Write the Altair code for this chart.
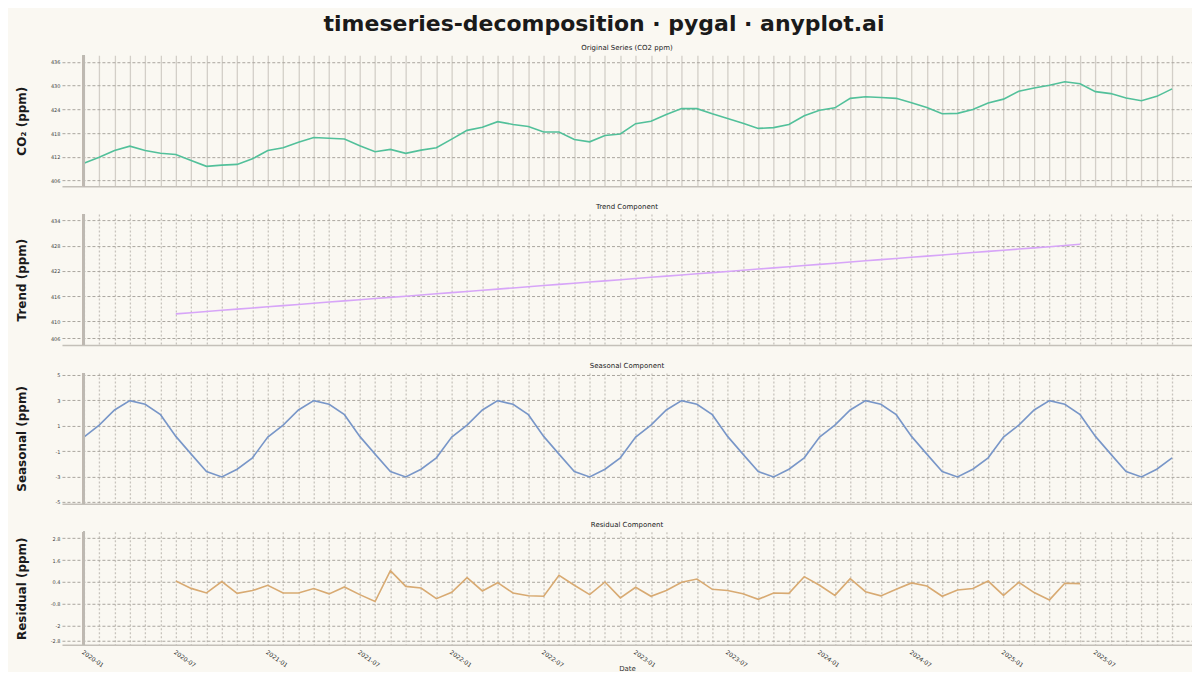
import altair as alt
import pandas as pd

# ---------------- data ----------------
months = [f"{y}-{m:02d}" for y in range(2020, 2026) for m in range(1, 13)]

observed = [
    410.4, 411.9, 413.6, 414.7, 413.6, 412.9, 412.6, 411.1, 409.6, 409.9, 410.1, 411.5,
    413.6, 414.3, 415.7, 416.9, 416.7, 416.5, 414.8, 413.3, 413.9, 412.9, 413.7, 414.3,
    416.5, 418.7, 419.5, 420.9, 420.2, 419.7, 418.3, 418.3, 416.4, 415.8, 417.4, 417.8,
    420.4, 421.0, 422.7, 424.2, 424.2, 422.9, 421.7, 420.5, 419.2, 419.4, 420.2, 422.4,
    423.8, 424.4, 426.8, 427.2, 427.0, 426.8, 425.7, 424.5, 422.9, 423.0, 424.0, 425.6,
    426.6, 428.6, 429.4, 430.1, 431.0, 430.5, 428.5, 428.0, 426.9, 426.2, 427.3, 429.2,
]

# trend: 2020-07 .. 2025-06
trend_months = months[6:66]
trend = [
    411.80, 412.08, 412.36, 412.64, 412.92, 413.20, 413.48, 413.76, 414.04, 414.32, 414.60, 414.88,
    415.16, 415.44, 415.72, 416.00, 416.28, 416.56, 416.84, 417.12, 417.40, 417.68, 417.96, 418.24,
    418.52, 418.80, 419.08, 419.36, 419.64, 419.92, 420.20, 420.48, 420.76, 421.04, 421.32, 421.60,
    421.88, 422.16, 422.44, 422.72, 423.00, 423.28, 423.56, 423.84, 424.12, 424.40, 424.68, 424.96,
    425.24, 425.52, 425.80, 426.08, 426.36, 426.64, 426.92, 427.20, 427.48, 427.76, 428.04, 428.32,
]

# seasonal component: the same 12-month cycle every year
seasonal_cycle = [0.10, 1.05, 2.24, 2.98, 2.69, 1.87, 0.16, -1.24, -2.61, -3.04, -2.43, -1.53]
seasonal = seasonal_cycle * 6

# residual: 2020-07 .. 2025-06
residual_months = months[6:66]
residual = [
    0.45, 0.05, -0.20, 0.42, -0.22, -0.07, 0.22, -0.20, -0.20, 0.04, -0.25, 0.13,
    -0.29, -0.67, 1.02, 0.16, 0.07, -0.51, -0.16, 0.64, -0.09, 0.36, -0.20, -0.35,
    -0.38, 0.76, 0.22, -0.29, 0.40, -0.47, 0.11, -0.38, -0.07, 0.38, 0.56, 0.00,
    -0.07, -0.24, -0.55, -0.20, -0.22, 0.69, 0.22, -0.33, 0.58, -0.13, -0.36, 0.00,
    0.35, 0.18, -0.38, -0.04, 0.04, 0.45, -0.33, 0.38, -0.18, -0.58, 0.33, 0.31,
]

y_ticks_obs = [406, 412, 418, 424, 430, 436]
y_ticks_trend = [406, 410, 416, 422, 428, 434]
y_ticks_seas = [-5, -3, -1, 1, 3, 5]
y_ticks_resid = [-2.8, -2, -0.8, 0.4, 1.6, 2.8]

# ---------------- styling ----------------
BG = "#faf8f2"
FONT = "DejaVu Sans"
W = 1131
X_DOMAIN = [-1.43, 72.3]
x_ticks = list(range(len(months)))
X_LABEL_EXPR = ("datum.value % 6 == 0 ? (2020 + floor(datum.value / 12)) + "
                "(datum.value % 12 == 0 ? '-01' : '-07') : ''")


def frame(labels, values):
    return pd.DataFrame({
        "month": labels,
        "t": [months.index(m) for m in labels],
        "value": values,
    })


def panel(df, color, title, ytitle, ydomain, yvalues, height, solid_vgrid, bottom):
    xa = dict(values=x_ticks, tickCount=200, grid=True, gridColor="#d3cfc8", gridWidth=1.3,
              ticks=False, domain=True, domainColor="#c4c0b9", domainWidth=1.5,
              labelOverlap=False, labelBound=False)
    if not solid_vgrid:
        xa["gridDash"] = [2, 2]
        xa["gridColor"] = "#c8c4bd"
    if bottom:
        xa.update(labels=True, labelExpr=X_LABEL_EXPR, labelAngle=35, labelFontSize=6,
                  labelFont=FONT, labelColor="#333333", labelPadding=4, labelAlign="left",
                  labelBaseline="top",
                  title="Date", titleFont=FONT, titleFontSize=7, titleFontWeight="normal",
                  titleColor="#333333", titleY=20, titleBaseline="top")
        xenc = alt.X("t:Q", scale=alt.Scale(domain=X_DOMAIN, nice=False, zero=False),
                     axis=alt.Axis(**xa))
    else:
        xa.update(labels=False)
        xenc = alt.X("t:Q", scale=alt.Scale(domain=X_DOMAIN, nice=False, zero=False),
                     axis=alt.Axis(**xa), title=None)

    ya = alt.Axis(values=yvalues, tickCount=20, grid=True, gridDash=[3, 2], gridColor="#aaa69f",
                  gridWidth=1, domain=False, ticks=False, labelFontSize=5, labelFont=FONT,
                  labelColor="#444444", labelPadding=2, labelExpr="datum.value + ''",
                  title=ytitle, titleFont=FONT, titleFontSize=12, titleFontWeight="bold",
                  titleColor="#1a1a1a", titleX=-40, titleY=height / 2, titleAngle=270,
                  titleBaseline="middle", titleAlign="center")
    yenc = alt.Y("value:Q", scale=alt.Scale(domain=ydomain, nice=False, zero=False), axis=ya)

    base = alt.Chart(df)
    axis_rule = base.mark_rule(color="#bdb9b2", strokeWidth=2).encode(x=alt.datum(0))
    line = base.mark_line(color=color, strokeWidth=1.6).encode(
        x=xenc, y=yenc, tooltip=["month", "value"])
    return alt.layer(line, axis_rule).properties(
        width=W, height=height,
        title=alt.TitleParams(title, font=FONT, fontSize=7, fontWeight="normal",
                              color="#222222", anchor="middle", offset=3),
    )


p1 = panel(frame(months, observed), "#52c09a", "Original Series (CO2 ppm)", "CO₂ (ppm)",
           [404.6, 437.7], y_ticks_obs, 131, True, False)
p2 = panel(frame(trend_months, trend), "#d7a5f8", "Trend Component", "Trend (ppm)",
           [404.4, 435.5], y_ticks_trend, 131, False, False)
p3 = panel(frame(months, seasonal), "#7896c8", "Seasonal Component", "Seasonal (ppm)",
           [-5.16, 5.16], y_ticks_seas, 131, False, False)
p4 = panel(frame(residual_months, residual), "#d8aa72", "Residual Component", "Residual (ppm)",
           [-3.03, 3.14], y_ticks_resid, 113, False, True)

chart = alt.vconcat(p1, p2, p3, p4, spacing=16).properties(
    title=alt.TitleParams("timeseries-decomposition · pygal · anyplot.ai", font=FONT,
                          fontSize=22, fontWeight="bold", color="#1a1a1a",
                          anchor="middle", offset=8),
    padding={"left": 8, "top": 5, "right": 0, "bottom": 0},
    background=BG,
).configure_view(strokeWidth=0)

chart.save("out.html", embed_options={"renderer": "svg", "actions": False})
